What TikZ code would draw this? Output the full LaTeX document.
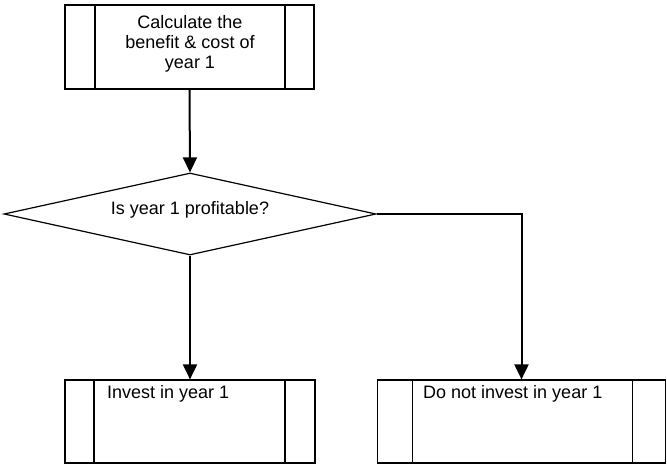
\documentclass[tikz,border=0pt]{standalone}
\usepackage{fontspec}
\setmainfont{Liberation Sans}
\usetikzlibrary{shapes.geometric,arrows.meta}

\tikzset{
  x=1pt, y=1pt,
  % predefined-process box: outer frame plus two inner vertical bars
  subbox/.style n args={2}{
    draw, line width=1.2pt, rectangle, inner sep=0pt,
    path picture={
      \draw[line width=1.2pt]
        ([xshift=#1]path picture bounding box.north west) --
        ([xshift=#1]path picture bounding box.south west);
      \draw[line width=1.2pt]
        ([xshift=-#2]path picture bounding box.north east) --
        ([xshift=-#2]path picture bounding box.south east);
    }},
  decision/.style={draw, line width=1.2pt, diamond, aspect=4.5, inner sep=0pt,
    minimum width=372pt, minimum height=82pt,
    text height=13pt, text depth=13pt},
  txt/.style={inner sep=0pt, font=\fontsize{18}{20}\selectfont},
  flow/.style={line width=2pt, -{Triangle[length=15pt,width=14pt]}}
}

\begin{document}
\begin{tikzpicture}
  \useasboundingbox (0,0) rectangle (667,-466);

  % boxes
  \node[subbox={30pt}{29pt}, minimum width=249pt, minimum height=84pt]
    (calc) at (189.5,-47) {};
  \node[txt, align=center] (calctxt) at (190,-43.5)
    {Calculate the\\benefit \& cost of\\year 1};

  \node[decision, txt] (dec) at (190,-214) {Is year 1 profitable?};

  \node[subbox={29pt}{30pt}, minimum width=250pt, minimum height=83pt]
    (inv) at (190,-421.5) {};
  \node[txt, anchor=base west] (invtxt) at (107,-398) {Invest in year 1};

  \node[subbox={35pt}{33pt}, minimum width=288pt, minimum height=83pt]
    (noinv) at (521.5,-421.5) {};
  \node[txt, anchor=base west] (noinvtxt) at (423,-398) {Do not invest in year 1};

  % connectors
  \draw[flow] (calc.south) -- (dec.north);
  \draw[flow] (dec.south) -- (inv.north);
  \draw[flow] (dec.east) -| (noinv.north);
\end{tikzpicture}
\end{document}
